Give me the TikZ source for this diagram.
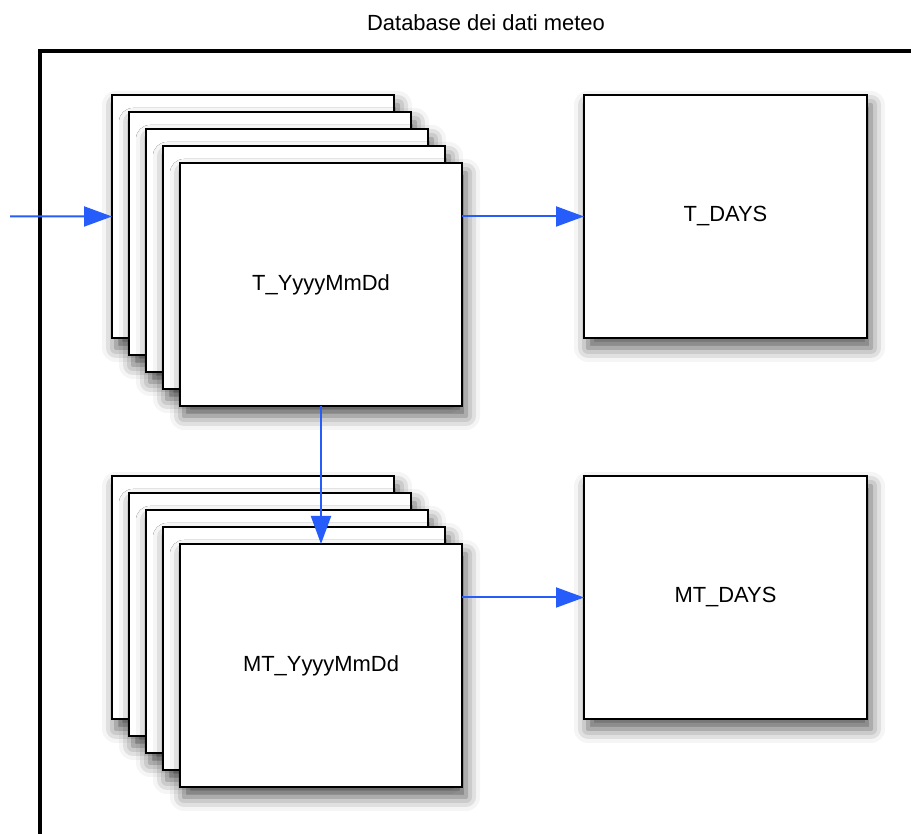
\documentclass[tikz,border=0pt]{standalone}
\usepackage{fontspec}
\setmainfont{Liberation Sans}
\usetikzlibrary{arrows.meta}
\usetikzlibrary{shadows.blur}
\definecolor{flowblue}{RGB}{38,92,250}

\begin{document}
\begin{tikzpicture}[
		tablebox/.style={draw, line width=0.05cm, fill=white, anchor=north west, outer sep=0pt,
			minimum width=7.05cm, minimum height=6.075cm, inner sep=0pt,
			blur shadow={shadow xshift=0.1cm, shadow yshift=-0.25cm, shadow blur radius=0.35cm, shadow opacity=65},
			font=\fontsize{15.6}{18}\selectfont},
		flow/.style={draw=flowblue, line width=0.05cm, arrows={-Triangle[length=0.7cm,width=0.5cm]}}
	]
			
			\useasboundingbox (0,0) rectangle (22.775,20.85);
			\clip (0,0) rectangle (22.775,20.85);
			
			% title
			\node[anchor=base, font=\fontsize{15.6}{18}\selectfont] (title) at (12.15,20.075) {Database dei dati meteo};
			
			% database frame
			\draw[line width=0.1cm] (1.0,-1) rectangle (24,19.575);
			
			% daily tables T
			\node[tablebox] (t0) at (2.8,18.475) {};
			\node[tablebox] (t1) at (3.225,18.05) {};
			\node[tablebox] (t2) at (3.65,17.625) {};
			\node[tablebox] (t3) at (4.075,17.2) {};
			\node[tablebox] (t4) at (4.5,16.775) {T\_YyyyMmDd};
			
			% daily tables MT
			\node[tablebox] (mt0) at (2.8,8.95) {};
			\node[tablebox] (mt1) at (3.225,8.525) {};
			\node[tablebox] (mt2) at (3.65,8.1) {};
			\node[tablebox] (mt3) at (4.075,7.675) {};
			\node[tablebox] (mt4) at (4.5,7.25) {MT\_YyyyMmDd};
			
			% summary tables
			\node[tablebox, minimum width=7.075cm] (tdays) at (14.6,18.475) {T\_DAYS};
			\node[tablebox, minimum width=7.075cm] (mtdays) at (14.6,8.95) {MT\_DAYS};
			
			% flows
			\coordinate (feed) at (0.25,15.4375);
			\draw[flow] (feed) -- (t0.west);
			\draw[flow] (t4.east |- tdays.west) -- (tdays.west);
			\draw[flow] (t4.south) -- (mt4.north);
			\draw[flow] (mt4.east |- mtdays.west) -- (mtdays.west);
			
\end{tikzpicture}
\end{document}
